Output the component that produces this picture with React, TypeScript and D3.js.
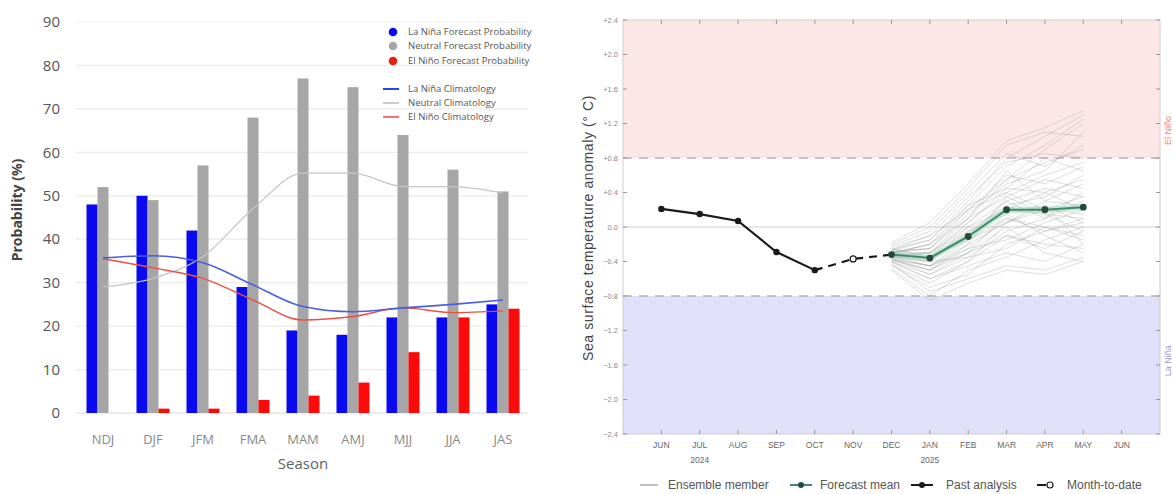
import * as d3 from "d3";

// ---- left panel: ENSO probability forecast ----
const seasons = ["NDJ", "DJF", "JFM", "FMA", "MAM", "AMJ", "MJJ", "JJA", "JAS"];
const laNinaProb = [48, 50, 42, 29, 19, 18, 22, 22, 25];
const neutralProb = [52, 49, 57, 68, 77, 75, 64, 56, 51];
const elNinoProb = [0, 1, 1, 3, 4, 7, 14, 22, 24];
const laNinaClim = [35.7, 36.2, 34.6, 29.5, 24.5, 23.3, 24.2, 25, 26];
const neutralClim = [29, 31, 36, 47, 55.2, 55.2, 52.1, 52.1, 50.6];
const elNinoClim = [35.5, 33.4, 31, 26, 21.4, 22.2, 24.2, 23.1, 23.5];
const probTicks = [0, 10, 20, 30, 40, 50, 60, 70, 80, 90];

// ---- right panel: SST anomaly plume ----
const months = ["JUN", "JUL", "AUG", "SEP", "OCT", "NOV", "DEC", "JAN", "FEB", "MAR", "APR", "MAY", "JUN"];
const yearLabels = [{ month: 1, text: "2024" }, { month: 7, text: "2025" }];
const pastAnalysis = [0.21, 0.15, 0.07, -0.29, -0.5]; // JUN..OCT
const monthToDate = [-0.5, -0.37, -0.32]; // OCT, NOV, DEC
const forecastMean = [-0.32, -0.36, -0.11, 0.2, 0.2, 0.23]; // DEC..MAY
const sstTicks = [2.4, 2.0, 1.6, 1.2, 0.8, 0.4, 0, -0.4, -0.8, -1.2, -1.6, -2.0, -2.4];
// ensemble members DEC..MAY
const ensemble = [
  [-0.3, -0.2, 0.25, 0.7, 0.95, 1.25],
  [-0.35, -0.45, -0.3, -0.1, -0.25, -0.05],
  [-0.28, -0.15, 0.3, 0.8, 1.05, 1.3],
  [-0.4, -0.6, -0.45, -0.3, -0.4, -0.2],
  [-0.32, -0.3, 0.05, 0.45, 0.4, 0.55],
  [-0.25, -0.35, -0.1, 0.2, 0.15, 0.1],
  [-0.45, -0.7, -0.55, -0.2, -0.05, 0.1],
  [-0.3, -0.25, 0.1, 0.55, 0.75, 0.9],
  [-0.38, -0.5, -0.2, 0.05, 0.3, 0.25],
  [-0.2, 0.0, 0.45, 0.95, 1.1, 1.05],
  [-0.33, -0.4, -0.35, -0.05, 0.1, 0.4],
  [-0.36, -0.55, -0.3, 0.15, -0.1, -0.3],
  [-0.29, -0.3, 0.0, 0.3, 0.45, 0.35],
  [-0.42, -0.75, -0.6, -0.45, -0.5, -0.35],
  [-0.31, -0.2, 0.2, 0.6, 0.5, 0.7],
  [-0.34, -0.45, -0.15, 0.1, 0.0, -0.15],
  [-0.27, -0.1, 0.35, 0.75, 0.85, 0.8],
  [-0.39, -0.5, -0.25, -0.15, 0.05, 0.2],
  [-0.3, -0.35, 0.05, 0.4, 0.2, 0.15],
  [-0.35, -0.4, -0.05, 0.25, 0.35, 0.6],
  [-0.22, -0.05, 0.4, 0.85, 0.7, 0.95],
  [-0.44, -0.65, -0.4, -0.1, -0.2, -0.25],
  [-0.33, -0.3, -0.05, 0.15, 0.25, 0.05],
  [-0.37, -0.45, -0.2, 0.35, 0.55, 0.45],
  [-0.28, -0.25, 0.15, 0.5, 0.65, 1.1],
  [-0.4, -0.55, -0.35, -0.25, 0.0, -0.1],
  [-0.31, -0.35, -0.1, 0.3, 0.1, 0.3],
  [-0.26, -0.15, 0.25, 0.45, 0.8, 0.65],
  [-0.36, -0.5, -0.3, 0.0, -0.3, -0.4],
  [-0.34, -0.4, 0.0, 0.2, 0.4, 0.2],
  [-0.3, -0.2, 0.1, 0.65, 0.3, 0.5],
  [-0.48, -0.8, -0.5, -0.35, -0.15, 0.0],
  [-0.32, -0.35, -0.15, 0.05, 0.2, 0.35],
  [-0.24, -0.1, 0.2, 0.4, 0.6, 0.75],
  [-0.38, -0.45, -0.25, 0.1, -0.05, 0.05],
  [-0.35, -0.3, 0.1, 0.35, 0.15, -0.05],
  [-0.18, 0.05, 0.5, 1.0, 1.15, 1.35],
  [-0.5, -0.85, -0.65, -0.5, -0.55, -0.4],
  [-0.29, -0.25, 0.2, 0.55, 0.9, 1.2],
  [-0.41, -0.6, -0.4, 0.05, 0.25, -0.2],
];

function ProbChart() {
  const x = d3.scaleBand().domain(seasons).range([78, 528]);
  const y = d3.scaleLinear().domain([0, 90]).range([413, 22]);
  const barW = 11;
  const cx = (s: string) => (x(s) as number) + x.bandwidth() / 2;
  const clim = d3
    .line<number>()
    .x((_, i) => cx(seasons[i]))
    .y((d) => y(d))
    .curve(d3.curveMonotoneX);

  const series = [
    { vals: laNinaProb, color: "#0a0af0", off: -1.5 },
    { vals: neutralProb, color: "#a6a6a6", off: -0.5 },
    { vals: elNinoProb, color: "#fb0a0a", off: 0.5 },
  ];

  return (
    <g fontFamily="'Open Sans', sans-serif">
      {probTicks.map((t) => (
        <g key={t}>
          <line x1={76} x2={528} y1={y(t)} y2={y(t)} stroke={t === 0 ? "#d8dcec" : "#ebebeb"} strokeWidth={1.2} />
          <text x={60} y={y(t)} dy="0.35em" textAnchor="end" fontSize={15} fill="#555">
            {t}
          </text>
        </g>
      ))}
      {series.map((s, si) =>
        s.vals.map((v, i) => (
          <rect
            key={si + "-" + i}
            x={cx(seasons[i]) + s.off * barW}
            y={y(v)}
            width={barW}
            height={y(0) - y(v)}
            fill={s.color}
          />
        ))
      )}
      <path d={clim(neutralClim) as string} fill="none" stroke="#c4c4c4" strokeWidth={1.2} />
      <path d={clim(elNinoClim) as string} fill="none" stroke="#ee5040" strokeWidth={1.4} />
      <path d={clim(laNinaClim) as string} fill="none" stroke="#4a5ee0" strokeWidth={1.6} />
      {seasons.map((s) => (
        <text key={s} x={cx(s)} y={444} textAnchor="middle" fontSize={13} fill="#888">
          {s}
        </text>
      ))}
      <text x={303} y={469} textAnchor="middle" fontSize={15} fill="#566">
        Season
      </text>
      <text
        transform="translate(22,210) rotate(-90)"
        textAnchor="middle"
        fontSize={14}
        fontWeight="bold"
        fill="#444"
      >
        Probability (%)
      </text>
      {/* legend */}
      {[
        { c: "#0a0af0", t: "La Niña Forecast Probability", y: 32 },
        { c: "#a6a6a6", t: "Neutral Forecast Probability", y: 46 },
        { c: "#e52010", t: "El Niño Forecast Probability", y: 61 },
      ].map((d) => (
        <g key={d.t}>
          <circle cx={393} cy={d.y} r={4.3} fill={d.c} />
          <text x={408} y={d.y} dy="0.35em" fontSize={9.5} fill="#555">
            {d.t}
          </text>
        </g>
      ))}
      {[
        { c: "#2a46e0", t: "La Niña Climatology", y: 89, w: 2 },
        { c: "#999", t: "Neutral Climatology", y: 103, w: 1 },
        { c: "#ee4040", t: "El Niño Climatology", y: 117, w: 1.5 },
      ].map((d) => (
        <g key={d.t}>
          <line x1={383} x2={399} y1={d.y} y2={d.y} stroke={d.c} strokeWidth={d.w} />
          <text x={408} y={d.y} dy="0.35em" fontSize={9.5} fill="#555">
            {d.t}
          </text>
        </g>
      ))}
    </g>
  );
}

function PlumeChart() {
  const left = 623;
  const right = 1160;
  const top = 20;
  const bottom = 434;
  const x = d3.scaleLinear().domain([-1, 13]).range([left, right]);
  const y = d3.scaleLinear().domain([-2.4, 2.4]).range([bottom, top]);
  const line = d3
    .line<[number, number]>()
    .x((d) => x(d[0]))
    .y((d) => y(d[1]));
  const fmt = (t: number) => (t === 0 ? "0.0" : (t > 0 ? "+" : "") + d3.format(".1f")(t));

  const past = pastAnalysis.map((v, i) => [i, v] as [number, number]);
  const mtd = monthToDate.map((v, i) => [4 + i, v] as [number, number]);
  const fc = forecastMean.map((v, i) => [6 + i, v] as [number, number]);

  return (
    <g fontFamily="'Liberation Sans', Arial, sans-serif">
      {/* regime bands */}
      <rect x={left} y={y(2.4)} width={right - left} height={y(0.8) - y(2.4)} fill="#fde6e6" />
      <rect x={left} y={y(-0.8)} width={right - left} height={y(-2.4) - y(-0.8)} fill="#e0e0fa" />
      <line x1={left} x2={right} y1={y(0)} y2={y(0)} stroke="#d0d0d0" strokeWidth={1.2} />
      {[0.8, -0.8].map((v) => (
        <line
          key={v}
          x1={left}
          x2={right}
          y1={y(v)}
          y2={y(v)}
          stroke="#b8b0b8"
          strokeWidth={1.6}
          strokeDasharray="9 7"
        />
      ))}
      {/* frame & ticks */}
      <rect x={left} y={top} width={right - left} height={bottom - top} fill="none" stroke="#cfcfcf" strokeWidth={1} />
      {sstTicks.map((t) => (
        <g key={t}>
          <line x1={left} x2={left + 4} y1={y(t)} y2={y(t)} stroke="#999" />
          <line x1={right - 4} x2={right} y1={y(t)} y2={y(t)} stroke="#999" />
          <text x={618} y={y(t)} dy="0.35em" textAnchor="end" fontSize={7.5} fill="#888">
            {fmt(t)}
          </text>
        </g>
      ))}
      {months.map((m, i) => (
        <g key={i}>
          <line x1={x(i)} x2={x(i)} y1={top} y2={top + 4} stroke="#999" />
          <line x1={x(i)} x2={x(i)} y1={bottom - 4} y2={bottom} stroke="#999" />
          <text x={x(i)} y={448} textAnchor="middle" fontSize={8.5} fill="#666">
            {m}
          </text>
        </g>
      ))}
      {yearLabels.map((d) => (
        <text key={d.text} x={x(d.month)} y={463} textAnchor="middle" fontSize={8.5} fill="#666">
          {d.text}
        </text>
      ))}
      {/* ensemble plume */}
      {ensemble.map((m, k) => (
        <path
          key={k}
          d={line(m.map((v, i) => [6 + i, v] as [number, number])) as string}
          fill="none"
          stroke="#999"
          strokeOpacity={0.32}
          strokeWidth={1}
        />
      ))}
      {/* past analysis */}
      <path d={line(past) as string} fill="none" stroke="#1a1a1a" strokeWidth={2.2} />
      {past.map((d, i) => (
        <circle key={i} cx={x(d[0])} cy={y(d[1])} r={3.2} fill="#1a1a1a" />
      ))}
      <path d={line(mtd) as string} fill="none" stroke="#1a1a1a" strokeWidth={2.2} strokeDasharray="8 6" />
      <circle cx={x(5)} cy={y(monthToDate[1])} r={3} fill="#fff" stroke="#1a1a1a" strokeWidth={1.2} />
      {/* forecast mean */}
      <path d={line(fc) as string} fill="none" stroke="#8fd6b4" strokeOpacity={0.5} strokeWidth={6} />
      <path d={line(fc) as string} fill="none" stroke="#3e8a6a" strokeWidth={2} />
      {fc.map((d, i) => (
        <circle key={i} cx={x(d[0])} cy={y(d[1])} r={3.4} fill="#244a3a" />
      ))}
      {/* axis titles */}
      <text
        transform="translate(593,228) rotate(-90)"
        textAnchor="middle"
        fontSize={14}
        letterSpacing={0.6}
        fill="#444"
      >
        Sea surface temperature anomaly (° C)
      </text>
      <text transform={`translate(1171,${y(1.12)}) rotate(-90)`} textAnchor="middle" fontSize={9} fill="#ef7f7f">
        El Niño
      </text>
      <text transform={`translate(1171,${y(-1.55)}) rotate(-90)`} textAnchor="middle" fontSize={9} fill="#9a9ad8">
        La Niña
      </text>
      {/* legend */}
      <g fontSize={12} fill="#555">
        <line x1={640} x2={658} y1={485} y2={485} stroke="#aaa" strokeWidth={1.5} />
        <text x={668} y={485} dy="0.35em">Ensemble member</text>
        <line x1={790} x2={812} y1={485} y2={485} stroke="#3e8a6a" strokeWidth={2} />
        <circle cx={801} cy={485} r={3} fill="#244a3a" />
        <text x={820} y={485} dy="0.35em">Forecast mean</text>
        <line x1={911} x2={933} y1={485} y2={485} stroke="#1a1a1a" strokeWidth={2} />
        <circle cx={922} cy={485} r={3} fill="#1a1a1a" />
        <text x={946} y={485} dy="0.35em">Past analysis</text>
        <line x1={1037} x2={1046} y1={485} y2={485} stroke="#1a1a1a" strokeWidth={2} />
        <circle cx={1050} cy={485} r={3} fill="#fff" stroke="#1a1a1a" strokeWidth={1.2} />
        <text x={1067} y={485} dy="0.35em">Month-to-date</text>
      </g>
    </g>
  );
}

export default function App() {
  return (
    <>
      <style>{`body{margin:0;background:#fff}`}</style>
      <svg width={1173} height={494} style={{ display: "block" }}>
        <rect width={1173} height={494} fill="#fff" />
        <ProbChart />
        <PlumeChart />
      </svg>
    </>
  );
}
